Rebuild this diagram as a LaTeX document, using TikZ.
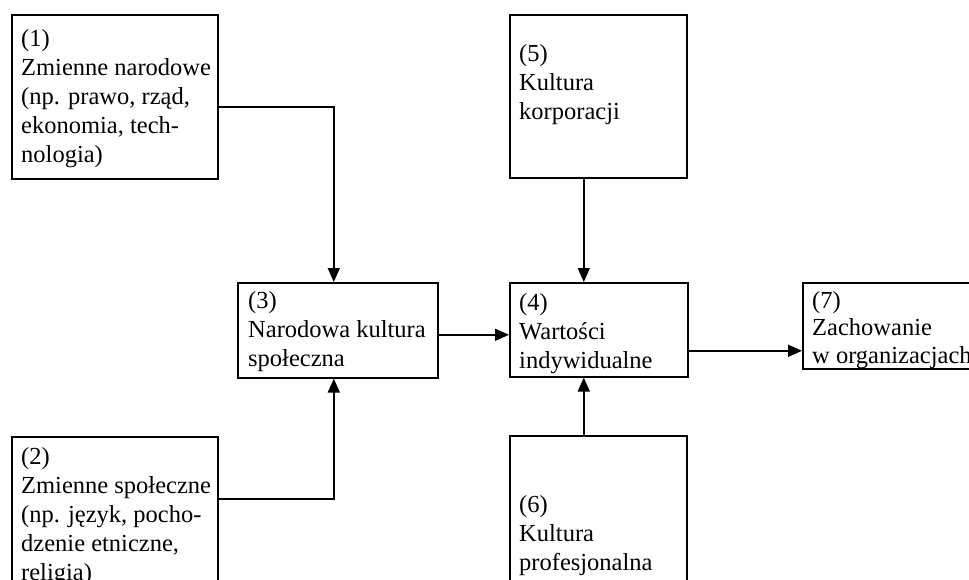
\documentclass[tikz,border=0pt]{standalone}
\usepackage{fontspec}
\setmainfont{Liberation Serif}
\usetikzlibrary{arrows.meta}
\tikzset{
  box/.style={draw=black, line width=1.6pt, rectangle, inner sep=0pt, anchor=north west},
  txt/.style={inner sep=0pt, anchor=base west},
  conn/.style={line width=1.4pt, -{Triangle[length=14pt,width=12pt]}}
}
\newcommand{\boxtext}[2][29pt]{\parbox[t]{300pt}{\fontsize{24.5pt}{#1}\selectfont #2}}
\begin{document}
\begin{tikzpicture}[x=1pt,y=-1pt]
\fill[white] (0,0) rectangle (969,579);
\useasboundingbox (0,0) rectangle (969,579);
\clip (0,0) rectangle (969,579);
% boxes
\node[box, minimum width=206pt, minimum height=164pt] (b1) at (11,14) {};
\node[box, minimum width=206pt, minimum height=164pt] (b2) at (11,436) {};
\node[box, minimum width=200pt, minimum height=95pt] (b3) at (237,282) {};
\node[box, minimum width=178pt, minimum height=94pt] (b4) at (509,282) {};
\node[box, minimum width=177pt, minimum height=163pt] (b5) at (509,14) {};
\node[box, minimum width=177pt, minimum height=164pt] (b6) at (509,435) {};
\node[box, minimum width=190pt, minimum height=86pt] (b7) at (802,282) {};
% texts
\node[txt] (t1) at (21,46) {\boxtext{(1)\\Zmienne narodowe\\(np. prawo, rząd,\\ekonomia, tech-\\nologia)}};
\node[txt] (t2) at (21,464) {\boxtext{(2)\\Zmienne społeczne\\(np. język, pocho-\\dzenie etniczne,\\religia)}};
\node[txt] (t3) at (248,308) {\boxtext{(3)\\Narodowa kultura\\społeczna}};
\node[txt] (t4) at (519,310) {\boxtext{(4)\\Wartości\\indywidualne}};
\node[txt] (t5) at (519,61) {\boxtext{(5)\\Kultura\\korporacji}};
\node[txt] (t6) at (519,512) {\boxtext{(6)\\Kultura\\profesjonalna}};
\node[txt] (t7) at (812,308) {\boxtext[27.5pt]{(7)\\Zachowanie\\w organizacjach}};
% connectors
\draw[conn] ([yshift=-10pt]b1.east) -| ([xshift=-4pt]b3.north);
\draw[conn] ([yshift=-63pt]b2.north east) -| ([xshift=-4pt]b3.south);
\draw[conn] ([yshift=-4.5pt]b3.east) -- ([yshift=-4.5pt]b3.east -| b4.west);
\draw[conn] ([xshift=-14.5pt]b5.south) -- ([xshift=-14.5pt]b5.south |- b4.north);
\draw[conn] ([xshift=-14.5pt]b6.north) -- ([xshift=-14.5pt]b6.north |- b4.south);
\draw[conn] ([yshift=-21pt]b4.east) -- ([yshift=-21pt]b4.east -| b7.west);
\end{tikzpicture}
\end{document}
